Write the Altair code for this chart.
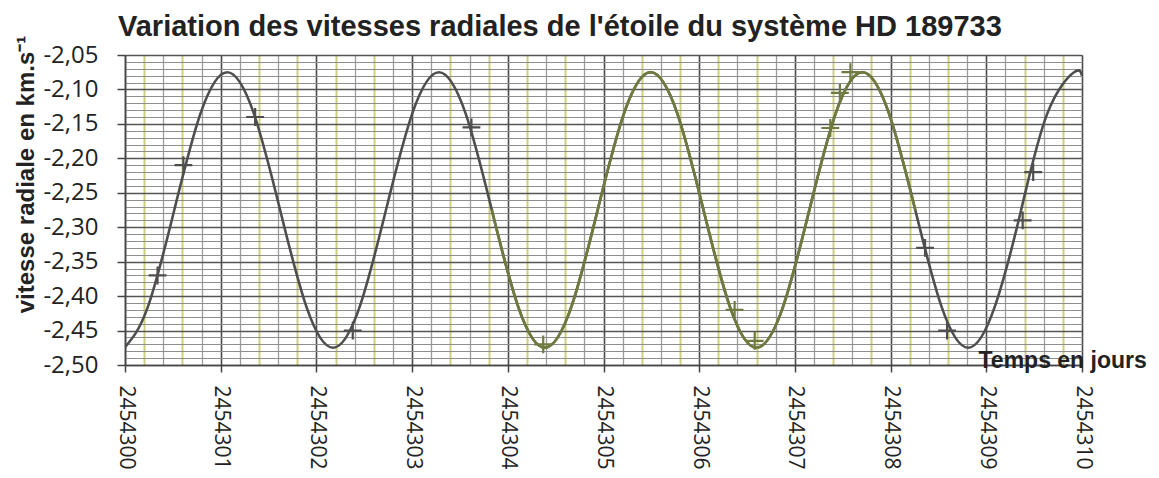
import altair as alt
import pandas as pd

JD0 = 2454300

# Fitted curve: day offset from JD 2454300, radial velocity km/s
curve_day = [0.000, 0.238, 0.515, 0.791, 1.068, 1.344, 1.621, 1.897, 2.174, 2.451,
             2.727, 3.004, 3.280, 3.557, 3.833, 4.110, 4.386, 4.663, 4.939, 5.216,
             5.492, 5.769, 6.045, 6.322, 6.598, 6.875, 7.151, 7.428, 7.705, 7.981,
             8.258, 8.534, 8.811, 9.087, 9.364, 9.640, 9.917, 10.000]
curve_v = [-2.474, -2.416, -2.275, -2.134, -2.075, -2.134, -2.275, -2.416, -2.475, -2.416,
           -2.275, -2.134, -2.075, -2.134, -2.275, -2.416, -2.475, -2.416, -2.275, -2.134,
           -2.075, -2.134, -2.275, -2.416, -2.475, -2.416, -2.275, -2.134, -2.075, -2.134,
           -2.275, -2.416, -2.475, -2.416, -2.275, -2.134, -2.075, -2.080]

# Measurements (+ markers)
obs_day = [0.34, 0.61, 1.36, 2.38, 3.62, 4.37, 6.37, 6.58, 7.37, 7.47, 7.58, 8.36, 8.59, 9.38, 9.49]
obs_v = [-2.370, -2.210, -2.140, -2.450, -2.155, -2.470, -2.420, -2.465, -2.156, -2.105,
         -2.075, -2.330, -2.450, -2.290, -2.220]

# Tinted (scanned) part of the curve
green_from, green_to = 3.833, 8.258

DARK = "#4e4e4e"
GREEN = "#6f7b3e"

curve_df = pd.DataFrame({"day": curve_day, "v": curve_v})
green_df = curve_df[(curve_df.day >= green_from - 1e-9) & (curve_df.day <= green_to + 1e-9)]
obs_df = pd.DataFrame({"day": obs_day, "v": obs_v})
obs_df["col"] = [GREEN if (green_from <= d <= green_to) else DARK for d in obs_day]

x_ticks = [round(i * 0.2, 1) for i in range(51)]
y_ticks = [round(-2.50 + i * 0.01, 2) for i in range(46)]

x_major = "abs(datum.value - round(datum.value)) < 0.001"
x_yellow = "round(datum.value * 5) % 2 == 1"
y_major = "abs(datum.value * 20 - round(datum.value * 20)) < 0.001"

x_axis = alt.Axis(
    values=x_ticks,
    labelExpr=f"({x_major}) ? format(datum.value + {JD0}, 'd') : ''",
    labelAngle=90, labelAlign="left", labelBaseline="middle",
    labelFont="Open Sans", labelFontSize=21, labelColor="#222",
    labelPadding=13, labelOverlap=False, labelFlush=False,
    tickSize=7, tickWidth=1.5,
    tickColor={"condition": {"test": x_major, "value": "#444"}, "value": "transparent"},
    grid=True,
    gridColor={"condition": [{"test": x_major, "value": "#4a4a4a"},
                             {"test": x_yellow, "value": "#cdd07e"}],
               "value": "#9c9c9c"},
    gridWidth={"condition": [{"test": x_major, "value": 1.6},
                             {"test": x_yellow, "value": 2.0}],
               "value": 1.3},
    domainColor="#444", domainWidth=1.5,
    title="Temps en jours", titleFont="Liberation Sans", titleFontSize=23,
    titleFontWeight="bold", titleColor="#222",
    titleX=853, titleY=2, titleAlign="left", titleBaseline="alphabetic",
)

y_axis = alt.Axis(
    values=y_ticks,
    labelExpr=f"({y_major}) ? '-' + replace(format(abs(datum.value), '.2f'), '.', ',') : ''",
    labelFont="Open Sans", labelFontSize=24, labelColor="#222",
    labelPadding=19, labelOverlap=False, labelFlush=False, labelBaseline="middle",
    tickSize=8, tickWidth=1.5,
    tickColor={"condition": {"test": y_major, "value": "#444"}, "value": "transparent"},
    grid=True,
    gridColor={"condition": {"test": y_major, "value": "#555555"}, "value": "#8e8e8e"},
    gridWidth={"condition": {"test": y_major, "value": 1.6}, "value": 1.1},
    domainColor="#444", domainWidth=1.5,
    title="vitesse radiale en km.s⁻¹", titleFont="Liberation Sans", titleFontSize=24,
    titleFontWeight="bold", titleColor="#222",
    titleAngle=-90, titleX=-92, titleY=119, titleAlign="center", titleBaseline="alphabetic",
)

X = alt.X("day:Q", axis=x_axis, scale=alt.Scale(domain=[0, 10], nice=False, zero=False))
Y = alt.Y("v:Q", axis=y_axis, scale=alt.Scale(domain=[-2.50, -2.05], nice=False, zero=False))

line_all = alt.Chart(curve_df).mark_line(
    interpolate="natural", color=DARK, strokeWidth=2.6, clip=True
).encode(x=X, y=Y)

line_green = alt.Chart(green_df).mark_line(
    interpolate="natural", color=GREEN, strokeWidth=2.7, clip=True
).encode(x=X, y=Y)

pts = alt.Chart(obs_df).mark_point(
    shape="M-1,0L1,0M0,-1L0,1", filled=False, strokeWidth=2.2, size=320, opacity=1
).encode(x=X, y=Y, color=alt.Color("col:N", scale=None))

chart = alt.layer(line_all, line_green, pts).properties(
    width=957, height=310,
    autosize=alt.AutoSizeParams(type="none"),
    padding={"left": 117, "top": 47, "right": 69, "bottom": 113},
    title=alt.TitleParams(
        text="Variation des vitesses radiales de l'étoile du système HD 189733",
        anchor="start", offset=12, dx=104, dy=19,
        font="Liberation Sans", fontSize=29, fontWeight="bold", color="#222",
    ),
).configure_view(stroke=None).configure(background="white")

chart.save("out.html", embed_options={"renderer": "svg", "actions": False})
